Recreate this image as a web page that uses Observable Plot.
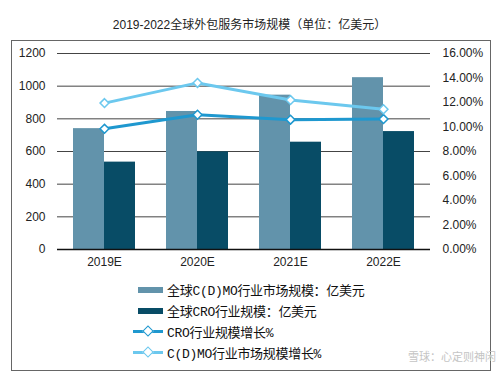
<!DOCTYPE html>
<html><head><meta charset="utf-8">
<script src="https://cdn.jsdelivr.net/npm/d3@7"></script>
<script src="https://cdn.jsdelivr.net/npm/@observablehq/plot@0.6"></script>
<style>
body{margin:0;width:499px;height:375px;background:#fff;position:relative;overflow:hidden;font-family:"Liberation Sans",Arial,sans-serif;}
#title{position:absolute;left:0;top:15px;width:499px;text-align:center;font-size:12px;color:#222;font-family:"Liberation Sans","Noto Sans CJK SC",sans-serif;}
#box{position:absolute;left:11px;top:40px;width:478px;height:329px;border:1px solid #666;}
#chart{position:absolute;left:0;top:40px;}
#legend{position:absolute;left:133px;top:279px;font-family:"Liberation Mono","Noto Sans CJK SC",monospace;font-size:13px;color:#111;letter-spacing:-0.3px;}
.row{height:21px;display:flex;align-items:center;position:relative;white-space:nowrap;}
.sw{width:25px;height:6px;margin-left:5px;margin-right:4px;}
.ln{width:30px;height:3px;margin-right:4px;position:relative;}
.dm{position:absolute;left:11px;top:-3px;width:6px;height:6px;background:#fff;transform:rotate(45deg);border:1.5px solid;}
#wm{position:absolute;right:3px;top:348px;font-size:11px;color:#c4c4c4;font-family:"Noto Sans CJK SC",sans-serif;white-space:nowrap;}
</style></head><body>
<div id="title">2019-2022全球外包服务市场规模（单位：亿美元）</div>
<div id="box"></div>
<div id="chart"></div>
<div id="legend"></div>
<div id="wm">雪球：心定则神闲</div>
<script>
const years = ["2019E","2020E","2021E","2022E"];
const cdmoSize = [740, 845, 945, 1052];
const croSize = [535, 598, 657, 722];
const croGrowth = [9.85, 11.0, 10.6, 10.65];
const cdmoGrowth = [11.95, 13.6, 12.2, 11.45];
const leftTicks = [0,200,400,600,800,1000,1200];
const rightTicks = [0,2,4,6,8,10,12,14,16];
const seriesNames = ["全球C(D)MO行业市场规模：亿美元","全球CRO行业规模：亿美元","CRO行业规模增长%","C(D)MO行业市场规模增长%"];
const colors = ["#6293ab","#084c66","#1f98cf","#6cc8ee"];

const scaleK = 1200/16; // percent -> left-axis units
const bars = years.map((y,i)=>({year:y, cdmo:cdmoSize[i], cro:croSize[i], gCro:croGrowth[i]*scaleK, gCdmo:cdmoGrowth[i]*scaleK}));

const plot = Plot.plot({
  width:499, height:235,
  marginTop:13, marginBottom:26, marginLeft:57, marginRight:69,
  style:{fontFamily:"Liberation Sans, Arial, sans-serif", fontSize:"12px", color:"#222", background:"transparent"},
  x:{domain:years, paddingInner:0.335, paddingOuter:0.1675, label:null},
  y:{domain:[0,1200], label:null},
  marks:[
    Plot.ruleY(leftTicks.filter(d=>d>0), {stroke:"#444", strokeWidth:1}),
    Plot.barY(bars, {x:"year", y:"cdmo", fill:colors[0], insetRight:31}),
    Plot.barY(bars, {x:"year", y:"cro", fill:colors[1], insetLeft:31}),
    Plot.ruleY([0], {stroke:"#111", strokeWidth:1.5}),
    Plot.lineY(bars, {x:"year", y:"gCro", stroke:colors[2], strokeWidth:3}),
    Plot.lineY(bars, {x:"year", y:"gCdmo", stroke:colors[3], strokeWidth:3}),
    Plot.dot(bars, {x:"year", y:"gCro", symbol:"diamond2", r:4, fill:"#fff", stroke:colors[2], strokeWidth:1.5}),
    Plot.dot(bars, {x:"year", y:"gCdmo", symbol:"diamond2", r:4, fill:"#fff", stroke:colors[3], strokeWidth:1.5}),
    Plot.axisY(leftTicks, {anchor:"left", tickSize:0, tickPadding:12, label:null, tickFormat:d=>String(d)}),
    Plot.axisY(rightTicks.map(d=>d*scaleK), {anchor:"right", tickSize:0, tickPadding:12, label:null, tickFormat:d=>(d/scaleK).toFixed(2)+"%"}),
    Plot.axisX({tickSize:0, tickPadding:8, label:null})
  ]
});
document.getElementById("chart").appendChild(plot);

const lg = document.getElementById("legend");
seriesNames.forEach((name,i)=>{
  const row = document.createElement("div"); row.className="row";
  if(i<2){
    const s=document.createElement("div"); s.className="sw"; s.style.background=colors[i]; row.appendChild(s);
  } else {
    const l=document.createElement("div"); l.className="ln"; l.style.background=colors[i];
    const d=document.createElement("div"); d.className="dm"; d.style.borderColor=colors[i]; l.appendChild(d);
    row.appendChild(l);
  }
  const t=document.createElement("span"); t.textContent=name; row.appendChild(t);
  lg.appendChild(row);
});
</script>
</body></html>
